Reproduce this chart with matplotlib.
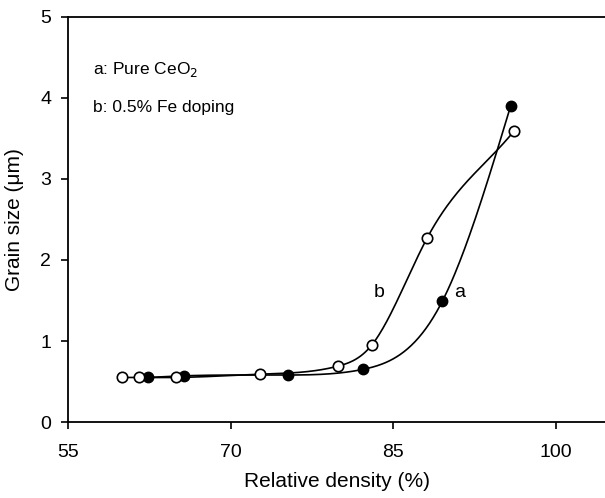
import matplotlib.pyplot as plt
import numpy as np

plt.rcParams['font.family'] = ['Liberation Sans', 'DejaVu Sans']

# a: pure CeO2 (filled)
dens_a = [62.4, 65.7, 75.3, 82.2, 89.5, 95.8]
size_a = [0.55, 0.57, 0.58, 0.65, 1.49, 3.90]
# b: 0.5% Fe doping (open)
dens_b = [60.0, 61.5, 65.0, 72.7, 79.9, 83.0, 88.1, 96.1]
size_b = [0.55, 0.55, 0.55, 0.59, 0.69, 0.95, 2.27, 3.59]


def spline(x, y, clamp_end=False, n=300):
    # cubic spline; natural ends, or right end clamped to last chord slope
    x = np.asarray(x, float)
    y = np.asarray(y, float)
    k = len(x)
    h = np.diff(x)
    A = np.zeros((k, k))
    r = np.zeros(k)
    A[0, 0] = 1
    for i in range(1, k - 1):
        A[i, i - 1] = h[i - 1]
        A[i, i] = 2 * (h[i - 1] + h[i])
        A[i, i + 1] = h[i]
        r[i] = 6 * ((y[i + 1] - y[i]) / h[i] - (y[i] - y[i - 1]) / h[i - 1])
    if clamp_end:
        s = (y[-1] - y[-2]) / h[-1]
        A[-1, -2] = h[-1]
        A[-1, -1] = 2 * h[-1]
        r[-1] = 6 * (s - (y[-1] - y[-2]) / h[-1])
    else:
        A[-1, -1] = 1
    m = np.linalg.solve(A, r)
    xs = np.linspace(x[0], x[-1], n)
    idx = np.clip(np.searchsorted(x, xs) - 1, 0, k - 2)
    t0 = x[idx + 1] - xs
    t1 = xs - x[idx]
    hh = h[idx]
    ys = (m[idx] * t0 ** 3 + m[idx + 1] * t1 ** 3) / (6 * hh) \
        + (y[idx] / hh - m[idx] * hh / 6) * t0 \
        + (y[idx + 1] / hh - m[idx + 1] * hh / 6) * t1
    return xs, ys


fig = plt.figure(figsize=(6.05, 4.98), dpi=100)
ax = fig.add_axes([0.1124, 0.1526, 0.8876, 0.8133])

xs, ys = spline(dens_a, size_a)
ax.plot(xs, ys, color='black', lw=1.2, zorder=2)
xs, ys = spline(dens_b, size_b, clamp_end=True)
ax.plot(xs, ys, color='black', lw=1.2, zorder=2)

ax.plot(dens_a, size_a, 'o', ms=7.5, mfc='black', mec='black', zorder=3)
ax.plot(dens_b, size_b, 'o', ms=7.5, mfc='white', mec='black', mew=1.2, zorder=3)

ax.text(57.3, 4.35, 'a: Pure CeO$_2$', fontsize=12.5, va='center')
ax.text(57.3, 3.88, 'b: 0.5% Fe doping', fontsize=12.5, va='center')
ax.text(83.7, 1.6, 'b', fontsize=14, va='center', ha='center')
ax.text(91.1, 1.6, 'a', fontsize=14, va='center', ha='center')

ax.set_xlim(55, 104.5)
ax.set_ylim(0, 5)
ax.set_xticks([55, 70, 85, 100])
ax.set_yticks([0, 1, 2, 3, 4, 5])
ax.tick_params(direction='out', length=5, width=1.2, labelsize=14)
ax.tick_params(axis='x', pad=11)
ax.tick_params(axis='y', pad=7)
ax.spines['right'].set_visible(False)
for s in ['left', 'bottom', 'top']:
    ax.spines[s].set_linewidth(1.3)

ax.set_xlabel('Relative density (%)', fontsize=15)
ax.set_ylabel('Grain size (\u03bcm)', fontsize=15)
ax.xaxis.set_label_coords(337 / 605, 1 - 481 / 498, transform=fig.transFigure)
ax.xaxis.label.set_va('center')
ax.yaxis.set_label_coords(15 / 605, 1 - 220 / 498, transform=fig.transFigure)
ax.yaxis.label.set_va('center')

plt.savefig('out.png', dpi=100)
